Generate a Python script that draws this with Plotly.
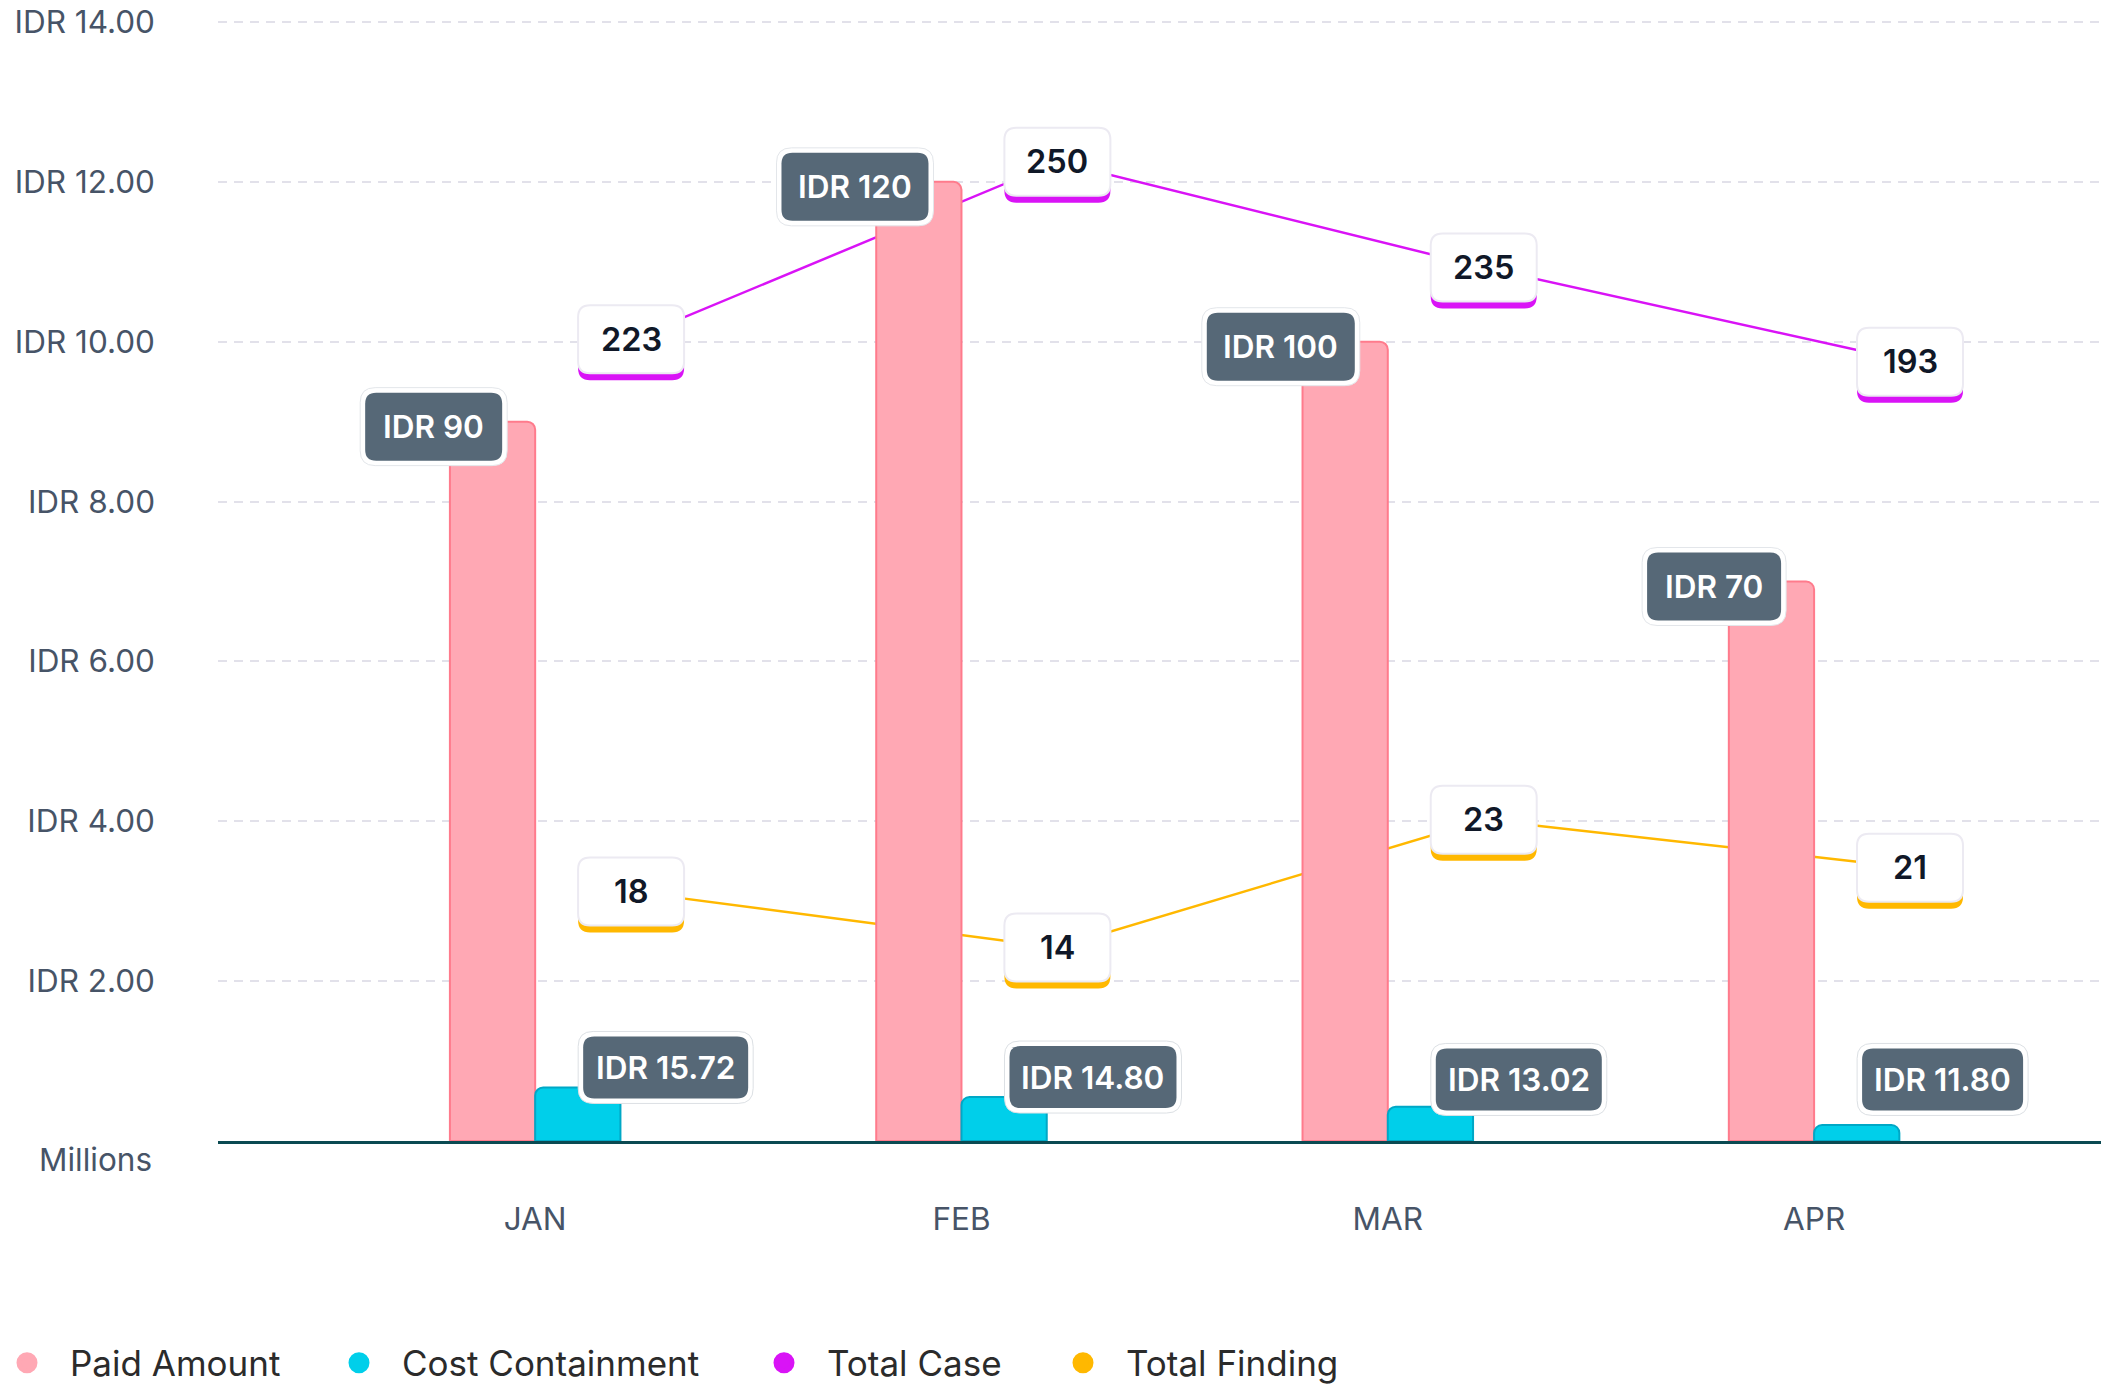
import plotly.graph_objects as go

# ---------------- data ----------------
months = ["JAN", "FEB", "MAR", "APR"]
paid_amount = [9.0, 12.0, 10.0, 7.0]            # bar heights, millions
paid_labels = ["IDR 90", "IDR 120", "IDR 100", "IDR 70"]
cost_containment = [0.67, 0.55, 0.43, 0.20]     # bar heights, millions
cost_labels = ["IDR 15.72", "IDR 14.80", "IDR 13.02", "IDR 11.80"]
total_case = [223, 250, 235, 193]               # label values
total_case_level = [10.03, 12.25, 10.93, 9.75]  # plotted level on the axis
total_finding = [18, 14, 23, 21]                # label values
total_finding_level = [3.12, 2.42, 4.02, 3.42]  # plotted level on the axis
y_ticks = [2, 4, 6, 8, 10, 12, 14]
y_tick_text = [f"IDR {v:.2f}" for v in y_ticks]
series_names = ["Paid Amount", "Cost Containment", "Total Case", "Total Finding"]

# ---------------- styles ----------------
FONT = "Inter"
PINK, PINK_LINE = "#FFA8B4", "#FF7B8C"
CYAN, CYAN_LINE = "#00CFEA", "#00A8C6"
MAGENTA, AMBER = "#D913F6", "#FFB800"
SLATE = "#566877"
TICK_COLOR = "#475467"
GRID = "#E2E1EA"
BASE = "#0B4A52"
series_colors = [PINK, CYAN, MAGENTA, AMBER]
TICK_SIZE = 31.5
BOX_SIZE = 31.5
LINE_LBL_SIZE = 32.5

W, H = 2101, 1386
ML, MR, MT, MB = 218, 0, 17.5, 244.5
PLOT_W = W - ML - MR
legend_left_px = [-16, 316, 741, 1040]

paid_box_w = [137, 147, 148, 134]
cost_box_w = [165, 167, 166, 161]

x_idx = list(range(len(months)))
bar_range = [-0.744, 3.673]
line_shift = 0.225
line_range = [bar_range[0] - line_shift, bar_range[1] - line_shift]

fig = go.Figure()

# lines on the main x axis (drawn below the bars of the overlay axis)
fig.add_trace(go.Scatter(x=x_idx, y=total_case_level, mode="lines", name="Total Case",
                         line=dict(color=MAGENTA, width=2.5), showlegend=False,
                         xaxis="x", yaxis="y"))
fig.add_trace(go.Scatter(x=x_idx, y=total_finding_level, mode="lines", name="Total Finding",
                         line=dict(color=AMBER, width=2.5), showlegend=False,
                         xaxis="x", yaxis="y"))

# bars on the overlay axis
fig.add_trace(go.Bar(x=x_idx, y=paid_amount, name="Paid Amount", xaxis="x2", yaxis="y",
                     marker=dict(color=PINK, line=dict(color=PINK_LINE, width=2), cornerradius=8),
                     showlegend=False))
fig.add_trace(go.Bar(x=x_idx, y=cost_containment, name="Cost Containment", xaxis="x2", yaxis="y",
                     marker=dict(color=CYAN, line=dict(color=CYAN_LINE, width=2), cornerradius=8),
                     showlegend=False))

# legend entries (round dots), one legend per entry so spacing matches
legend_ids = ["legend", "legend2", "legend3", "legend4"]
for nm, col, lid in zip(series_names, series_colors, legend_ids):
    fig.add_trace(go.Scatter(x=[None], y=[None], mode="markers", name=nm, legend=lid,
                             marker=dict(color=col, size=16, line=dict(color=col, width=5)),
                             xaxis="x", yaxis="y"))


def rrect_path(x0, y0, x1, y1, r):
    return (f"M{x0 + r},{y0} L{x1 - r},{y0} Q{x1},{y0} {x1},{y0 + r} "
            f"L{x1},{y1 - r} Q{x1},{y1} {x1 - r},{y1} L{x0 + r},{y1} "
            f"Q{x0},{y1} {x0},{y1 - r} L{x0},{y0 + r} Q{x0},{y0} {x0 + r},{y0} Z")


def box(xref, xa, ya, x0, y0, x1, y1, r, fill, lc=None, lw=0):
    return dict(type="path", xref=xref, yref="y", xsizemode="pixel", ysizemode="pixel",
                xanchor=xa, yanchor=ya, path=rrect_path(x0, y0, x1, y1, r),
                fillcolor=fill, line=dict(color=lc or fill, width=lw), layer="above")


shapes, annotations = [], []

# paid amount labels (dark boxes at the top-left of pink bars)
for i, (v, t) in enumerate(zip(paid_amount, paid_labels)):
    w, h, right, cy = paid_box_w[i], 68, -33, -5
    x0, x1, y0, y1 = right - w, right, cy - h / 2, cy + h / 2
    shapes.append(box("x2", i, v, x0 - 5, y0 - 5, x1 + 5, y1 + 5, 15, "#FFFFFF", "#E3E6EA", 1))
    shapes.append(box("x2", i, v, x0, y0, x1, y1, 11, SLATE))
    annotations.append(dict(x=i, y=v, xref="x2", yref="y", text=t, showarrow=False,
                            xshift=(x0 + x1) / 2, yshift=cy, xanchor="center", yanchor="middle",
                            font=dict(family=FONT, size=BOX_SIZE, color="#FFFFFF", weight=600)))

# cost containment labels
for i, (v, t) in enumerate(zip(cost_containment, cost_labels)):
    ya = max(v, 0.52)
    w, h, left, cy = cost_box_w[i], 62, 48, 20
    x0, x1, y0, y1 = left, left + w, cy - h / 2, cy + h / 2
    shapes.append(box("x2", i, ya, x0 - 5, y0 - 5, x1 + 5, y1 + 5, 15, "#FFFFFF", "#DCE0E4", 1))
    shapes.append(box("x2", i, ya, x0, y0, x1, y1, 11, SLATE))
    annotations.append(dict(x=i, y=ya, xref="x2", yref="y", text=t, showarrow=False,
                            xshift=(x0 + x1) / 2, yshift=cy, xanchor="center", yanchor="middle",
                            font=dict(family=FONT, size=BOX_SIZE, color="#FFFFFF", weight=600)))

# line value labels (white boxes with coloured bottom edge)
for levels, vals, col in [(total_case_level, total_case, MAGENTA),
                          (total_finding_level, total_finding, AMBER)]:
    for i, (lv, val) in enumerate(zip(levels, vals)):
        w, h = 106, 68
        shapes.append(box("x", i, lv, -w / 2, -h / 2 - 7, w / 2, h / 2 - 7, 12, col))
        shapes.append(box("x", i, lv, -w / 2, -h / 2, w / 2, h / 2, 12, "#FFFFFF", "#ECEAF2", 2))
        annotations.append(dict(x=i, y=lv, xref="x", yref="y", text=str(val), showarrow=False,
                                xanchor="center", yanchor="middle",
                                font=dict(family=FONT, size=LINE_LBL_SIZE, color="#101828",
                                          weight=600)))

annotations.append(dict(x=0, y=0, xref="paper", yref="y", text="Millions", showarrow=False,
                        xanchor="right", yanchor="middle", xshift=-64, yshift=-18,
                        font=dict(family=FONT, size=TICK_SIZE, color=TICK_COLOR)))

legend_common = dict(orientation="h", xanchor="left", y=-0.1714, yanchor="top",
                     font=dict(family=FONT, size=35, color="#2B2B2B"), itemwidth=76,
                     bgcolor="rgba(0,0,0,0)", borderwidth=0)
legends = {}
for lid, lpx in zip(legend_ids, legend_left_px):
    legends[lid] = dict(legend_common, x=(lpx - ML) / PLOT_W)

fig.update_layout(
    width=W, height=H,
    margin=dict(l=ML, r=MR, t=MT, b=MB, autoexpand=False),
    paper_bgcolor="#FFFFFF", plot_bgcolor="#FFFFFF",
    font=dict(family=FONT, color=TICK_COLOR),
    barmode="group", bargap=0.6, bargroupgap=0,
    shapes=shapes, annotations=annotations,
    xaxis=dict(range=line_range, showticklabels=False, showgrid=False, zeroline=False,
               showline=True, linecolor=BASE, linewidth=3, ticks="", automargin=False),
    xaxis2=dict(range=bar_range, overlaying="x", side="bottom", tickvals=x_idx, ticktext=months,
                showgrid=False, zeroline=False, showline=False, ticks="", automargin=False,
                tickfont=dict(family=FONT, size=TICK_SIZE, color=TICK_COLOR),
                ticklabelstandoff=56, ticklabeloverflow="allow"),
    yaxis=dict(range=[0, 14.05], tickvals=y_ticks, ticktext=y_tick_text,
               showgrid=True, gridcolor=GRID, gridwidth=2, griddash="9px,7px",
               zeroline=False, showline=False, ticks="", ticklabelstandoff=62, automargin=False,
               ticklabeloverflow="allow",
               tickfont=dict(family=FONT, size=TICK_SIZE, color=TICK_COLOR)),
    hovermode=False,
    **legends,
)

# remove the default page margin so the 2101x1386 figure fills the window exactly
fig.write_html("out.html", config={"displayModeBar": False},
               post_script="document.body.style.margin='0';document.body.style.overflow='hidden';")
